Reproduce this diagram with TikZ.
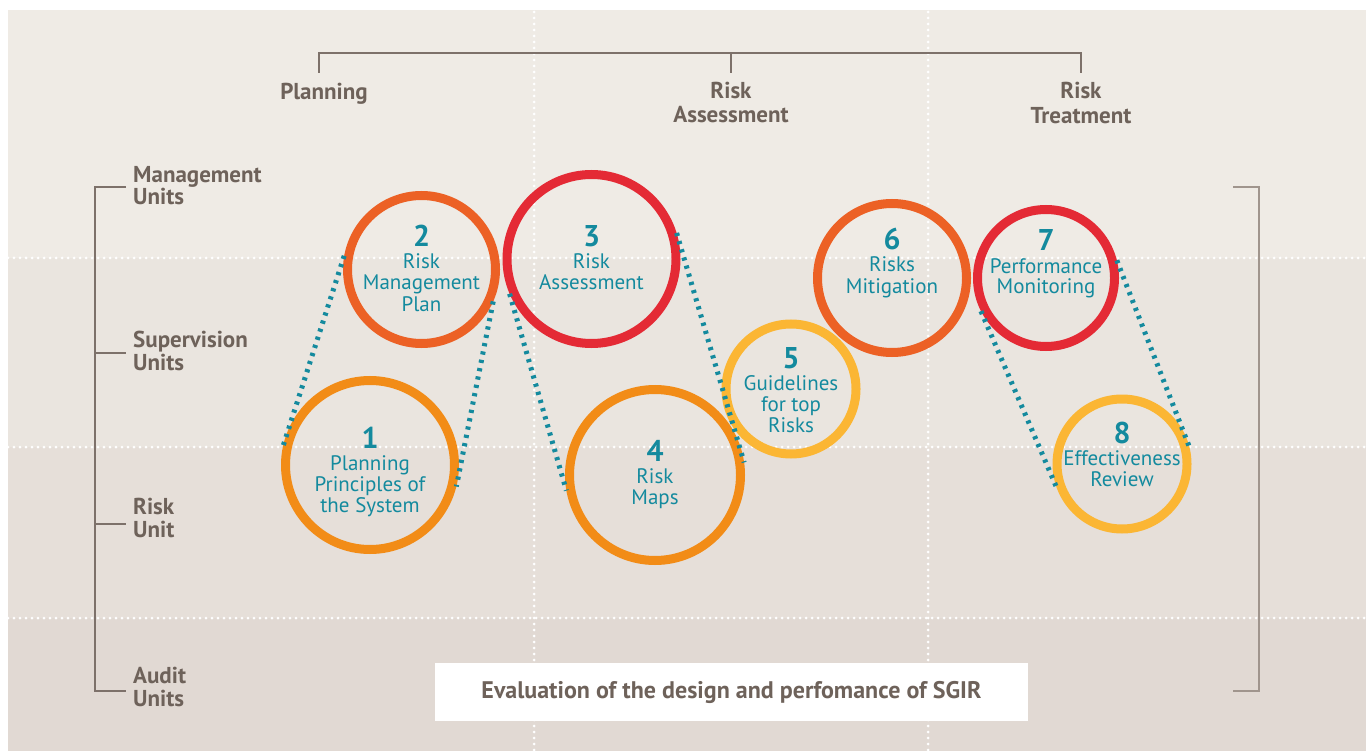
\documentclass[tikz,border=0pt]{standalone}
\usepackage{fontspec}
\setmainfont{PT Sans}
\usetikzlibrary{calc}
\definecolor{bgA}{HTML}{EFEBE5}
\definecolor{bgB}{HTML}{EAE5DF}
\definecolor{bgC}{HTML}{E6DFD9}
\definecolor{bgD}{HTML}{E1D9D3}
\definecolor{labgray}{HTML}{6E625A}
\definecolor{brk}{HTML}{7D716A}
\definecolor{brkR}{HTML}{A0958D}
\definecolor{teal}{HTML}{148A9E}
\definecolor{corange}{HTML}{F28C17}
\definecolor{credor}{HTML}{EC6125}
\definecolor{cred}{HTML}{E42A35}
\definecolor{cyellow}{HTML}{FBB634}
\tikzset{
  wdots/.style={white, line width=3pt, dash pattern=on 0pt off 6pt, line cap=round},
  bracket/.style={brk, line width=1.4pt},
  ring/.style={circle, draw=#1, line width=9pt, inner sep=0pt, fill=none},
  numtxt/.style={anchor=base, text=teal, font=\fontsize{30}{30}\selectfont\bfseries, inner sep=0pt},
  ringtxt/.style={anchor=base, text=teal, font=\fontsize{21}{21}\selectfont, inner sep=0pt},
  sidelab/.style={anchor=base west, text=labgray, font=\fontsize{23}{23}\selectfont\bfseries, inner sep=0pt},
  toplab/.style={anchor=base, text=labgray, font=\fontsize{23}{23}\selectfont\bfseries, inner sep=0pt},
  tealdash/.style={teal, line width=5pt, dash pattern=on 3.2pt off 5.3pt},
}
\newcommand\ringtext[5]{%
  \node[numtxt] (#1-n) at (#2,#3-22) {#4};
  \foreach \ll [count=\ii] in {#5} {
    \node[ringtxt] (#1-\ii) at ({#2},{#3+21*(\ii-1)}) {\ll};
  }
}
\begin{document}
\begin{tikzpicture}[x=1pt,y=-1pt]
\useasboundingbox (0,0) rectangle (1370,751);
\fill[white] (0,0) rectangle (1370,751);
% background bands
\fill[bgA] (8,10) rectangle (1366,258);
\fill[bgB] (8,258) rectangle (1366,447);
\fill[bgC] (8,447) rectangle (1366,618);
\fill[bgD] (8,618) rectangle (1366,751);
% dotted grid
\foreach \yy in {258,447,618} \draw[wdots] (8,\yy) -- (1366,\yy);
\foreach \xx in {534,928} \draw[wdots] (\xx,12) -- (\xx,751);
% top bracket
\coordinate (tb1) at (319,73);
\coordinate (tb2) at (731,73);
\coordinate (tb3) at (1081,73);
\draw[bracket] (tb1) |- (731,53) -| (tb3);
\draw[bracket] (731,53) -- (tb2);
% left bracket
\coordinate (lb1) at (126,187);
\coordinate (lb4) at (126,691);
\draw[bracket] (lb1) -| (95,691) -- (lb4);
\draw[bracket] (95,353) -- (126,353);
\draw[bracket] (95,524) -- (126,524);
% right bracket
\coordinate (rb1) at (1233,187);
\coordinate (rb2) at (1233,691);
\draw[brkR, line width=2pt] (rb1) -| (1259,691) -- (rb2);
% top labels
\node[toplab] (pl) at (324,100) {Planning};
\node[toplab] (ra1) at (731,99) {Risk};
\node[toplab] (ra2) at (731,123) {Assessment};
\node[toplab] (rt1) at (1081,99) {Risk};
\node[toplab] (rt2) at (1081,124) {Treatment};
% side labels
\node[sidelab] (mu1) at (133,183) {Management};
\node[sidelab] (mu2) at (133,205) {Units};
\node[sidelab] (su1) at (133,347) {Supervision};
\node[sidelab] (su2) at (133,370) {Units};
\node[sidelab] (ru1) at (133,514) {Risk};
\node[sidelab] (ru2) at (133,537) {Unit};
\node[sidelab] (au1) at (133,683) {Audit};
\node[sidelab] (au2) at (133,706) {Units};
% circles
\node[ring=cyellow, minimum size=130pt] (c5) at (791,389) {};
\node[ring=corange, minimum size=169pt] (c1) at (370,465) {};
\node[ring=credor, minimum size=148pt] (c2) at (421.5,269.5) {};
\node[ring=cred, minimum size=169pt] (c3) at (591.5,259) {};
\node[ring=corange, minimum size=171pt] (c4) at (655,475) {};
\node[ring=credor, minimum size=149pt] (c6) at (892,278) {};
\node[ring=cred, minimum size=137pt] (c7) at (1046,278) {};
\node[ring=cyellow, minimum size=130pt] (c8) at (1122,464) {};
% circle texts
\ringtext{c1}{370}{470}{1}{Planning,Principles of,the System}
\ringtext{c2}{421.5}{269}{2}{Risk,Management,Plan}
\ringtext{c3}{591.5}{269}{3}{Risk,Assessment}
\ringtext{c4}{655}{483}{4}{Risk,Maps}
\ringtext{c5}{791}{390}{5}{Guidelines,for top,Risks}
\ringtext{c6}{892}{272}{6}{Risks,Mitigation}
\ringtext{c7}{1046}{273}{7}{Performance,Monitoring}
\ringtext{c8}{1122}{465}{8}{Effectiveness,Review}
% teal dotted connectors
\draw[tealdash] (c2.170.5) -- (c1.168);
\draw[tealdash] (c2.-24) -- (c1.-14.5);
\draw[tealdash] (c3.203) -- (c4.190);
\draw[tealdash] (c3.17) -- (c4.8);
\draw[tealdash] (c7.207) -- (c8.200);
\draw[tealdash] (c7.14.5) -- (c8.14.7);
% bottom box
\node[fill=white, minimum width=593pt, minimum height=58pt, inner sep=0pt] (eval) at (731.5,692) {};
\node[text=labgray, font=\fontsize{24}{24}\selectfont\bfseries, inner sep=0pt] (evaltxt) at (731.5,692) {Evaluation of the design and perfomance of SGIR};
\end{tikzpicture}
\end{document}
